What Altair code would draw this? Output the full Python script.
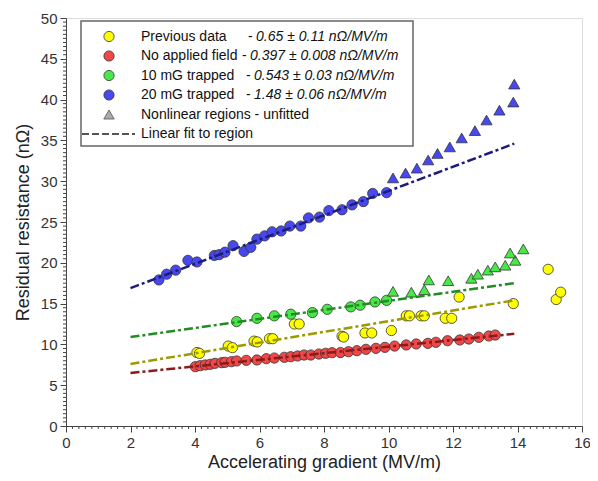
import altair as alt
import pandas as pd

# ---------------- data ----------------
prev_x = [4.06, 4.14, 5.03, 5.16, 5.83, 5.93, 6.31, 6.41, 7.08, 7.23, 8.56, 8.61, 9.27, 9.48,
          10.09, 10.55, 10.65, 11.01, 11.11, 11.76, 11.96, 12.19, 13.87, 14.95, 15.20, 15.34]
prev_y = [9.0, 8.9, 9.8, 9.6, 10.4, 10.3, 10.7, 10.7, 12.5, 12.5, 11.0, 10.9, 11.4, 11.4,
          11.7, 13.5, 13.5, 13.5, 13.5, 13.2, 13.2, 15.8, 15.0, 19.2, 15.5, 16.4]

red_x = [4.01, 4.16, 4.32, 4.47, 4.62, 4.83, 4.93, 5.13, 5.29, 5.59, 5.92, 6.21, 6.46, 6.77,
         6.97, 7.18, 7.38, 7.59, 7.84, 8.05, 8.25, 8.51, 8.76, 9.02, 9.30, 9.61, 9.89, 10.19,
         10.55, 10.86, 11.22, 11.47, 11.83, 12.21, 12.49, 12.80, 13.11, 13.31]
red_y = [7.27, 7.39, 7.48, 7.56, 7.68, 7.76, 7.81, 7.88, 7.97, 8.05, 8.09, 8.25, 8.33, 8.42,
         8.49, 8.58, 8.70, 8.70, 8.82, 8.91, 8.98, 9.00, 9.10, 9.23, 9.40, 9.52, 9.64, 9.80,
         9.93, 10.05, 10.13, 10.26, 10.45, 10.54, 10.66, 10.87, 11.03, 11.15]

green_x = [5.29, 5.92, 6.46, 6.97, 7.64, 8.10, 8.83, 9.12, 9.58, 9.94]
green_y = [12.8, 13.2, 13.5, 13.7, 13.9, 14.3, 14.6, 14.8, 15.2, 15.4]
green_tri_x = [10.14, 10.71, 11.11, 11.25, 11.85, 12.57, 12.77, 13.08, 13.31, 13.62, 13.93, 13.77, 14.18]
green_tri_y = [16.5, 16.4, 16.7, 17.9, 17.8, 18.1, 18.6, 19.1, 19.5, 19.7, 20.3, 21.2, 21.7]

blue_x = [2.88, 3.12, 3.40, 3.78, 4.06, 4.60, 4.75, 4.93, 5.18, 5.52, 5.73, 5.92, 6.16, 6.39,
          6.67, 6.94, 7.28, 7.52, 7.86, 8.15, 8.56, 8.87, 9.22, 9.51, 9.94]
blue_y = [17.9, 18.6, 19.1, 20.3, 20.1, 20.9, 21.0, 21.3, 22.1, 21.4, 21.9, 22.9, 23.3, 23.8,
          23.9, 24.5, 24.5, 25.5, 25.6, 26.4, 26.5, 27.1, 27.5, 28.5, 28.6]
blue_tri_x = [10.14, 10.53, 10.88, 11.23, 11.52, 11.90, 12.27, 12.68, 13.04, 13.44, 13.87, 13.90]
blue_tri_y = [30.4, 31.0, 31.6, 32.6, 33.4, 34.2, 35.3, 36.2, 37.5, 38.7, 39.7, 41.9]

# linear fits (end points)
fit_series = ["prev", "red", "green", "blue"]
fit_x0 = [2.0, 2.0, 2.0, 2.0]
fit_y0 = [7.6, 6.5, 10.9, 16.9]
fit_x1 = [13.9, 13.9, 13.9, 13.9]
fit_y1 = [15.4, 11.3, 17.5, 34.6]

series_names = ["prev", "red", "green", "blue"]
fill_colors = ["#ffff00", "#f04848", "#48e848", "#4848f0"]
line_colors = ["#9b9b00", "#8b1a1a", "#228b22", "#1c1c7c"]

legend_labels = ["Previous data", "No applied field", "10 mG trapped", "20 mG trapped"]
legend_fits = ["0.65 \u00b1 0.11 n\u03a9/MV/m", "0.397 \u00b1 0.008 n\u03a9/MV/m",
               "0.543 \u00b1 0.03 n\u03a9/MV/m", "1.48 \u00b1 0.06 n\u03a9/MV/m"]

x_major = list(range(0, 17, 2))
y_major = list(range(0, 51, 5))
x_minor = [round(i * 0.2, 1) for i in range(0, 81) if i % 10 != 0]
y_minor = [round(i * 0.5, 1) for i in range(0, 101) if i % 10 != 0]

# ---------------- tables ----------------
rows = []
for sx, sy, s in [(prev_x, prev_y, "prev"), (red_x, red_y, "red"),
                  (green_x, green_y, "green"), (blue_x, blue_y, "blue")]:
    rows += [dict(x=a, y=b, s=s) for a, b in zip(sx, sy)]
circ = pd.DataFrame(rows)

trows = []
for sx, sy, s in [(green_tri_x, green_tri_y, "green"), (blue_tri_x, blue_tri_y, "blue")]:
    trows += [dict(x=a, y=b, s=s) for a, b in zip(sx, sy)]
tri = pd.DataFrame(trows)

frows = []
for s, a0, b0, a1, b1 in zip(fit_series, fit_x0, fit_y0, fit_x1, fit_y1):
    frows += [dict(x=a0, y=b0, s=s), dict(x=a1, y=b1, s=s)]
fits = pd.DataFrame(frows)

xminor_df = pd.DataFrame({"v": x_minor})
yminor_df = pd.DataFrame({"v": y_minor})
one = pd.DataFrame({"k": [0]})

FONT = "Liberation Sans"
W, H = 516, 408

xscale = alt.Scale(domain=[0, 16], nice=False, zero=False)
yscale = alt.Scale(domain=[0, 50], nice=False, zero=False)

xaxis = alt.Axis(values=x_major, title="Accelerating gradient (MV/m)", grid=False,
                 tickSize=6, labelOverlap=False, labelFontSize=15, labelColor="#333",
                 labelFont=FONT, labelPadding=3, titleFontSize=18, titleFontWeight="normal",
                 titleFont=FONT, titleColor="#222", titlePadding=3, domainColor="#444",
                 tickColor="#444", labelFlush=False)
yaxis = alt.Axis(values=y_major, title="Residual resistance (n\u03a9)", grid=False,
                 tickSize=6, labelOverlap=False, labelFontSize=15, labelColor="#333",
                 labelFont=FONT, labelPadding=3, titleFontSize=18, titleFontWeight="normal",
                 titleFont=FONT, titleColor="#222", titlePadding=8, domainColor="#444",
                 tickColor="#444", labelFlush=False)

fill_scale = alt.Scale(domain=series_names, range=fill_colors)
line_scale = alt.Scale(domain=series_names, range=line_colors)

circles = alt.Chart(circ).mark_point(shape="circle", filled=True, size=105, opacity=1,
                                      stroke="#333", strokeWidth=0.8).encode(
    x=alt.X("x:Q", scale=xscale, axis=xaxis),
    y=alt.Y("y:Q", scale=yscale, axis=yaxis),
    fill=alt.Fill("s:N", scale=fill_scale, legend=None),
)

triangles = alt.Chart(tri).mark_point(shape="triangle-up", filled=True, size=125, opacity=1,
                                       stroke="#333", strokeWidth=0.8).encode(
    x="x:Q", y="y:Q",
    fill=alt.Fill("s:N", scale=fill_scale, legend=None),
)

fitlines = alt.Chart(fits).mark_line(strokeWidth=2.5, strokeDash=[9, 3, 3, 3]).encode(
    x="x:Q", y="y:Q",
    detail="s:N",
    color=alt.Color("s:N", scale=line_scale, legend=None),
)

xminor = alt.Chart(xminor_df).mark_rule(color="#444", strokeWidth=1).encode(
    x="v:Q", y=alt.value(H), y2=alt.value(H + 3))
yminor = alt.Chart(yminor_df).mark_rule(color="#444", strokeWidth=1).encode(
    y="v:Q", x=alt.value(0), x2=alt.value(-3))

# ---------------- hand-made legend ----------------
box = alt.Chart(one).mark_rect(fill="white", stroke="#666", strokeWidth=1.5).encode(
    x=alt.value(15), x2=alt.value(347), y=alt.value(3), y2=alt.value(128))

row_y = [18.5, 38, 57.5, 77, 96.5, 116]
dash_x = [182, 176, 180, 180]
ital_x = [190, 184, 188, 188]


def txt(x, y, s, italic=False):
    kw = dict(align="left", baseline="middle", font=FONT, fontSize=14, color="#111")
    if italic:
        kw["fontStyle"] = "italic"
    return alt.Chart(one).mark_text(**kw).encode(x=alt.value(x), y=alt.value(y), text=alt.value(s))


leg_layers = [box]
for i in range(4):
    leg_layers.append(alt.Chart(one).mark_point(shape="circle", filled=True, size=105, opacity=1,
                                                fill=fill_colors[i], stroke="#333", strokeWidth=0.8)
                      .encode(x=alt.value(43), y=alt.value(row_y[i])))
    leg_layers.append(txt(75, row_y[i], legend_labels[i]))
    leg_layers.append(txt(dash_x[i], row_y[i], "-"))
    leg_layers.append(txt(ital_x[i], row_y[i], legend_fits[i], italic=True))

leg_layers.append(alt.Chart(one).mark_point(shape="triangle-up", filled=True, size=110, opacity=1,
                                            fill="#aaaaaa", stroke="#555", strokeWidth=0.8)
                  .encode(x=alt.value(43), y=alt.value(row_y[4])))
leg_layers.append(txt(75, row_y[4], "Nonlinear regions - unfitted"))
leg_layers.append(alt.Chart(one).mark_rule(stroke="#555", strokeWidth=2, strokeDash=[7, 3])
                  .encode(x=alt.value(16), x2=alt.value(69), y=alt.value(row_y[5])))
leg_layers.append(txt(75, row_y[5], "Linear fit to region"))

chart = alt.layer(circles, triangles, fitlines, xminor, yminor, *leg_layers).properties(
    width=W, height=H,
    autosize=alt.AutoSizeParams(type="none"),
    padding={"left": 58, "top": 10, "right": 8, "bottom": 47},
).configure_view(stroke=None).configure(background="white")

chart.save("out.html", embed_options={"renderer": "svg", "actions": False})
